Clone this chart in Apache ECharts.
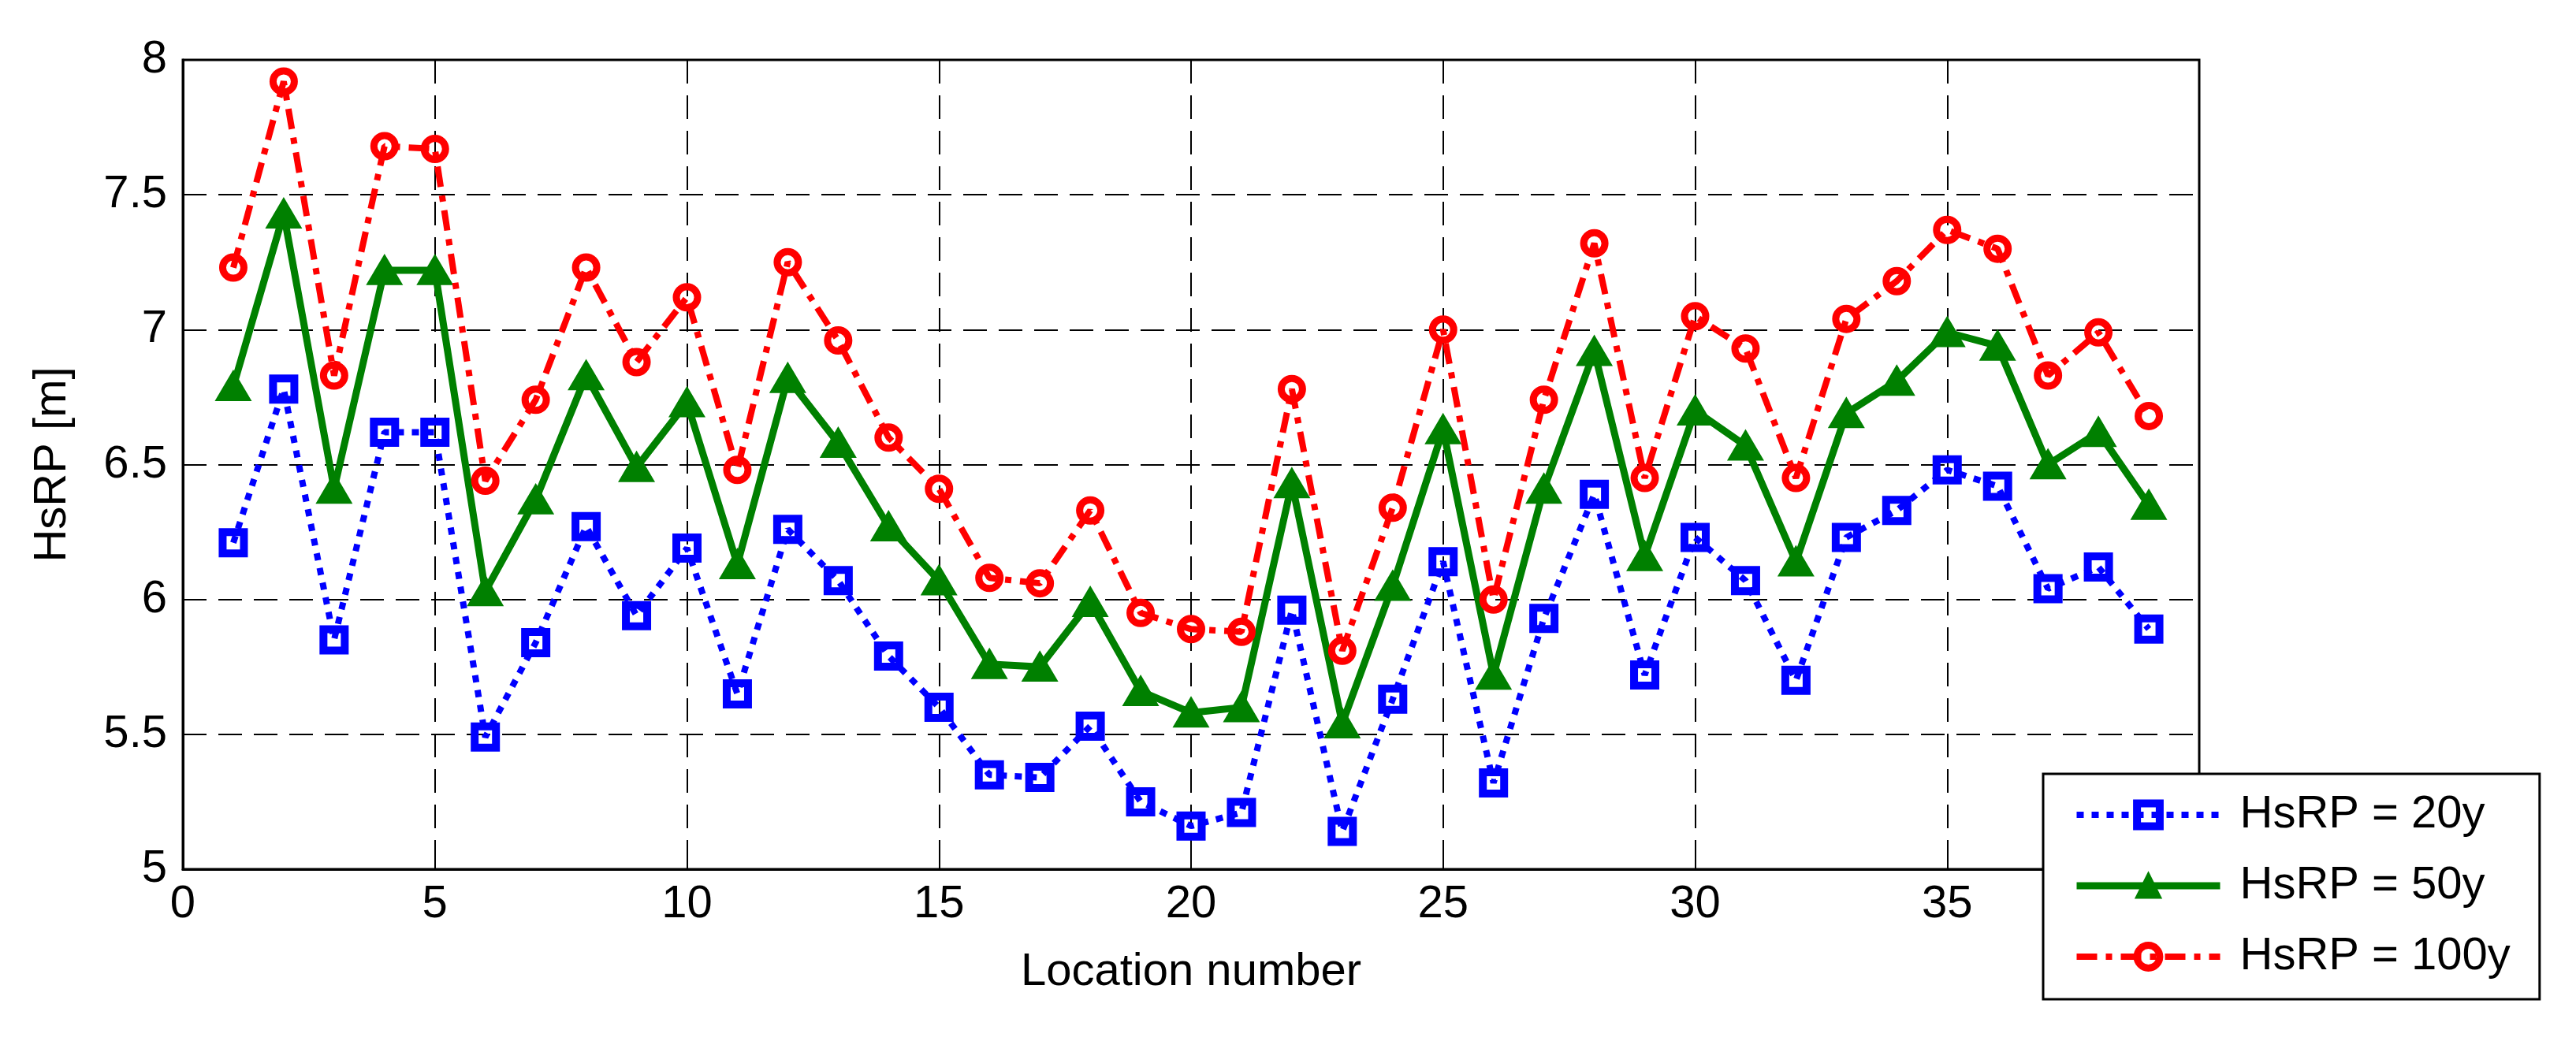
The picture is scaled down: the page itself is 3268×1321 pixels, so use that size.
<!doctype html>
<html>
<head>
<meta charset="UTF-8">
<title>HsRP</title>
<script src="https://cdn.jsdelivr.net/npm/echarts@6.0.0/dist/echarts.min.js"></script>
<style>
  html, body { margin: 0; padding: 0; background: #fff; }
  #main { width: 3268px; height: 1321px; }
</style>
</head>
<body>
<div id="main"></div>
<script type="text/javascript">
// location numbers along the x axis
var locations = [1, 2, 3, 4, 5, 6, 7, 8, 9, 10, 11, 12, 13, 14, 15, 16, 17, 18, 19, 20,
                 21, 22, 23, 24, 25, 26, 27, 28, 29, 30, 31, 32, 33, 34, 35, 36, 37, 38, 39];
// HsRP values [m]
var hs20 = [6.21, 6.78, 5.85, 6.62, 6.62, 5.49, 5.84, 6.27, 5.94, 6.19, 5.65, 6.26, 6.07, 5.79, 5.60,
            5.35, 5.34, 5.53, 5.25, 5.16, 5.21, 5.96, 5.14, 5.63, 6.14, 5.32, 5.93, 6.39, 5.72, 6.23,
            6.07, 5.70, 6.23, 6.33, 6.48, 6.42, 6.04, 6.12, 5.89];
var hs50 = [6.79, 7.43, 6.41, 7.22, 7.22, 6.03, 6.37, 6.83, 6.49, 6.73, 6.13, 6.82, 6.58, 6.27, 6.07,
            5.76, 5.75, 5.99, 5.66, 5.58, 5.60, 6.43, 5.54, 6.05, 6.63, 5.72, 6.41, 6.92, 6.16, 6.70,
            6.57, 6.14, 6.69, 6.81, 6.99, 6.94, 6.50, 6.62, 6.35];
var hs100 = [7.23, 7.92, 6.83, 7.68, 7.67, 6.44, 6.74, 7.23, 6.88, 7.12, 6.48, 7.25, 6.96, 6.60, 6.41,
             6.08, 6.06, 6.33, 5.95, 5.89, 5.88, 6.78, 5.81, 6.34, 7.00, 6.00, 6.74, 7.32, 6.45, 7.05,
             6.93, 6.45, 7.04, 7.18, 7.37, 7.30, 6.83, 6.99, 6.68];
var seriesNames = ['HsRP = 20y', 'HsRP = 50y', 'HsRP = 100y'];

function pairs(vals) {
    var out = [];
    for (var i = 0; i < locations.length; i++) {
        out.push([locations[i], vals[i]]);
    }
    return out;
}

var FONT = '"Liberation Sans", Arial, sans-serif';
var gridDash = { type: [30, 15], color: '#000', width: 2 };

// styles per series (also reused for the legend icons)
var blueLine = { color: '#0000ff', width: 8, type: [9, 10] };
var blueItem = { color: 'rgba(255,255,255,0)', borderColor: '#0000ff', borderWidth: 10 };
var greenLine = { color: '#008000', width: 9, type: 'solid' };
var greenItem = { color: '#008000', borderColor: '#008000', borderWidth: 4 };
var redLine = { color: '#ff0000', width: 8, type: [26, 11, 8, 11] };
var redItem = { color: 'rgba(255,255,255,0)', borderColor: '#ff0000', borderWidth: 9 };

var myChart = echarts.init(document.getElementById('main'), null, { renderer: 'canvas' });

var option = {
    animation: false,
    backgroundColor: '#fff',
    grid: {
        left: 232, right: 478, top: 76, bottom: 218,
        show: true, borderColor: '#000', borderWidth: 3, backgroundColor: 'transparent'
    },
    xAxis: {
        type: 'value', min: 0, max: 40, interval: 5,
        name: 'Location number', nameLocation: 'middle', nameGap: 102,
        nameTextStyle: { fontFamily: FONT, fontSize: 58, color: '#000' },
        axisLine: { lineStyle: { color: '#000', width: 3 } },
        axisTick: { inside: true, length: 14, lineStyle: { color: '#000', width: 2 } },
        axisLabel: { fontFamily: FONT, fontSize: 58, color: '#000', margin: 16 },
        splitLine: { show: true, lineStyle: gridDash }
    },
    yAxis: {
        type: 'value', min: 5, max: 8, interval: 0.5,
        name: 'HsRP [m]', nameLocation: 'middle', nameGap: 136,
        nameTextStyle: { fontFamily: FONT, fontSize: 58, color: '#000' },
        axisLine: { show: true, lineStyle: { color: '#000', width: 3 } },
        axisTick: { show: true, inside: true, length: 14, lineStyle: { color: '#000', width: 2 } },
        axisLabel: { fontFamily: FONT, fontSize: 58, color: '#000', margin: 20 },
        splitLine: { show: true, lineStyle: gridDash }
    },
    legend: {
        orient: 'vertical',
        left: 2592, top: 982,
        padding: [22, 37, 24, 38],
        itemWidth: 182, itemHeight: 36, itemGap: 30,
        backgroundColor: '#fff',
        borderColor: '#000', borderWidth: 3,
        textStyle: { fontFamily: FONT, fontSize: 58, color: '#000', lineHeight: 60, padding: [0, 0, 0, 20] },
        data: [
            { name: seriesNames[0], lineStyle: blueLine, itemStyle: blueItem },
            { name: seriesNames[1], lineStyle: greenLine, itemStyle: greenItem },
            { name: seriesNames[2], lineStyle: redLine, itemStyle: redItem }
        ]
    },
    series: [
        {
            name: seriesNames[0], type: 'line', data: pairs(hs20),
            symbol: 'rect', symbolSize: 27,
            itemStyle: blueItem, lineStyle: blueLine, z: 3
        },
        {
            name: seriesNames[1], type: 'line', data: pairs(hs50),
            symbol: 'triangle', symbolSize: [40, 34],
            itemStyle: greenItem, lineStyle: greenLine, z: 4
        },
        {
            name: seriesNames[2], type: 'line', data: pairs(hs100),
            symbol: 'circle', symbolSize: 27,
            itemStyle: redItem, lineStyle: redLine, z: 5
        }
    ]
};
myChart.setOption(option);
</script>
</body>
</html>
